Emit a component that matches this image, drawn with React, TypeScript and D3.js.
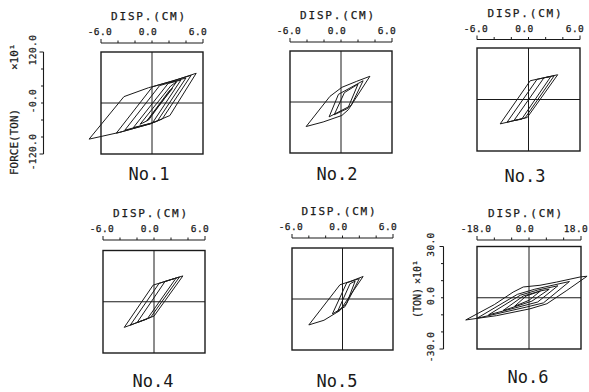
import React from "react";
import * as d3 from "d3";

type Pt = [number, number];

// ---------- DATA ----------
const specimenNames = ["No.1", "No.2", "No.3", "No.4", "No.5", "No.6"];
const xAxisTitle = "DISP.(CM)";
const yAxisTitle = "FORCE(TON)";
const yAxisTitleShort = "(TON)";
const yAxisMultiplier = "×10¹";

const dispTicksSmall = [-6, -4, -2, 0, 2, 4, 6];
const dispTickLabelsSmall = ["-6.0", "0.0", "6.0"];
const dispLabelValuesSmall = [-6, 0, 6];
const dispTicksLarge = [-18, -12, -6, 0, 6, 12, 18];
const dispTickLabelsLarge = ["-18.0", "0.0", "18.0"];
const dispLabelValuesLarge = [-18, 0, 18];

const forceTicksNo1 = [-120, -80, -40, 0, 40, 80, 120];
const forceLabelsNo1 = ["-120.0", "-0.0", "120.0"];
const forceLabelValuesNo1 = [-120, 0, 120];
const forceTicksNo6 = [-30, -20, -10, 0, 10, 20, 30];
const forceLabelsNo6 = ["-30.0", "0.0", "30.0"];
const forceLabelValuesNo6 = [-30, 0, 30];

const loopsNo1: Pt[][] = [
  [[-7.4, -85], [-3.3, 15], [-0.4, 36], [2.5, 52], [5.2, 70], [2.1, -29.5], [-0.2, -49], [-3.8, -69], [-7.4, -85]],
  [[-4.2, -71], [0.05, 38], [4.6, 65], [1.2, -37.8], [-0.2, -49], [-3.8, -69], [-4.2, -71]],
  [[-3.2, -64], [0.9, 41], [4.0, 59], [0.64, -42.3], [-0.2, -48], [-3.2, -64]],
  [[-2.2, -58], [1.9, 46], [3.4, 54], [0.05, -47], [-2.2, -58]],
  [[-1.4, -50], [2.2, 40], [2.9, 50], [-0.4, -40], [-1.4, -50]],
  [[-0.6, -42], [2.0, 28], [2.4, 34], [-0.2, -32], [-0.6, -42]],
];

const loopsNo2: Pt[][] = [
  [[-4.1, -57.7], [-1.3, 13.3], [0.1, 34.5], [1.85, 48.7], [3.4, 60.5], [0.86, -18.2], [0.1, -31.7], [-2.1, -47], [-4.1, -57.7]],
  [[-1.4, -35], [-0.3, 18], [2.6, 50], [1.2, -8], [-1.4, -35]],
  [[-0.8, -30], [0.4, 22], [2.0, 42], [0.8, -15], [-0.8, -30]],
];

const loopsNo3: Pt[][] = [
  [[-3.3, -56.8], [0.2, 43.7], [3.4, 57.7], [-0.15, -42], [-3.3, -56.8]],
  [[-2.5, -53], [1.0, 47], [3.0, 55.5], [-0.4, -43], [-2.5, -53]],
  [[-1.7, -49], [1.8, 50.5], [2.6, 53.5], [-0.8, -46], [-1.7, -49]],
];

const loopsNo4: Pt[][] = [
  [[-3.5, -60], [-0.1, 39], [3.4, 60.5], [0, -33.6], [-3.5, -60]],
  [[-2.8, -55], [0.6, 43], [3.0, 58], [-0.4, -36.6], [-2.8, -55]],
  [[-2.0, -49], [1.3, 47.5], [2.6, 55.5], [-0.8, -40.3], [-2.0, -49]],
];

const loopsNo5: Pt[][] = [
  [[-4.0, -61], [-0.3, 33.5], [1.0, 42], [2.45, 53], [-0.3, -27], [-2.2, -50], [-4.0, -61]],
  [[-1.2, -35], [0.5, 38], [2.0, 48], [0.3, -18], [-1.2, -35]],
  [[-0.6, -30], [0.9, 36], [1.5, 42], [0.5, -10], [-0.6, -30]],
];

const loopsNo6: Pt[][] = [
  [[-21.9, -13], [-12, -4], [-5.5, 3.3], [-2, 6.3], [3.8, 7.3], [9.6, 9.2], [17.8, 12.2], [20.1, 12.6], [13.1, 4.3], [6.2, -3.5], [0.3, -6.5], [-11.3, -10.5], [-21.9, -13]],
  [[-18, -12], [-4, 2], [2, 5], [14, 9.5], [5, -3], [-1, -5.5], [-18, -12]],
  [[-14, -10], [-3, 1.5], [3, 4.5], [10, 7], [3, -2.5], [-14, -10]],
  [[-9, -7.5], [-2, 1], [4, 4], [7, 5], [1, -2], [-9, -7.5]],
  [[-5, -5], [-1, 1], [4, 4], [0, -1.5], [-5, -5]],
];

// ---------- LAYOUT ----------
const INK = "#1a1a1a";
const MONO = "'DejaVu Sans Mono', 'Liberation Mono', monospace";

type Panel = {
  name: string;
  loops: Pt[][];
  x0: number; x1: number; y0: number; y1: number;
  axisY: number;
  labelX: number; labelY: number;
  xDomain: [number, number];
  yDomain: [number, number];
  xTicks: number[];
  xLabelValues: number[];
  xLabels: string[];
  yAxis?: { x: number; ticks: number[]; labelValues: number[]; labels: string[]; labelX: number; titleX: number; title: string; titleSize: number; titleStartY: number; multStartY: number };
};

const panels: Panel[] = [
  {
    name: specimenNames[0], loops: loopsNo1, x0: 101, x1: 203, y0: 52, y1: 154, axisY: 43, labelX: 149, labelY: 180,
    xDomain: [-6, 6], yDomain: [-120, 120], xTicks: dispTicksSmall, xLabelValues: dispLabelValuesSmall, xLabels: dispTickLabelsSmall,
    yAxis: { x: 43.5, ticks: forceTicksNo1, labelValues: forceLabelValuesNo1, labels: forceLabelsNo1, labelX: 35.5, titleX: 18, title: yAxisTitle, titleSize: 11, titleStartY: 175, multStartY: 70 },
  },
  {
    name: specimenNames[1], loops: loopsNo2, x0: 290, x1: 392, y0: 51, y1: 153, axisY: 42, labelX: 337, labelY: 180,
    xDomain: [-6, 6], yDomain: [-120, 120], xTicks: dispTicksSmall, xLabelValues: dispLabelValuesSmall, xLabels: dispTickLabelsSmall,
  },
  {
    name: specimenNames[2], loops: loopsNo3, x0: 477, x1: 580, y0: 48, y1: 151, axisY: 39.5, labelX: 525, labelY: 182,
    xDomain: [-6, 6], yDomain: [-120, 120], xTicks: dispTicksSmall, xLabelValues: dispLabelValuesSmall, xLabels: dispTickLabelsSmall,
  },
  {
    name: specimenNames[3], loops: loopsNo4, x0: 103, x1: 205, y0: 250.5, y1: 353, axisY: 240, labelX: 153, labelY: 387,
    xDomain: [-6, 6], yDomain: [-120, 120], xTicks: dispTicksSmall, xLabelValues: dispLabelValuesSmall, xLabels: dispTickLabelsSmall,
  },
  {
    name: specimenNames[4], loops: loopsNo5, x0: 292, x1: 393, y0: 248, y1: 350, axisY: 238, labelX: 337, labelY: 387,
    xDomain: [-6, 6], yDomain: [-120, 120], xTicks: dispTicksSmall, xLabelValues: dispLabelValuesSmall, xLabels: dispTickLabelsSmall,
  },
  {
    name: specimenNames[5], loops: loopsNo6, x0: 477, x1: 581, y0: 246.5, y1: 349, axisY: 240, labelX: 528, labelY: 383,
    xDomain: [-18, 18], yDomain: [-30, 30], xTicks: dispTicksLarge, xLabelValues: dispLabelValuesLarge, xLabels: dispTickLabelsLarge,
    yAxis: { x: 443.5, ticks: forceTicksNo6, labelValues: forceLabelValuesNo6, labels: forceLabelsNo6, labelX: 433.5, titleX: 421, title: yAxisTitleShort, titleSize: 10, titleStartY: 318, multStartY: 284 },
  },
];

const textInk = { fill: INK, stroke: INK, strokeWidth: 0.25 };

function PanelView({ p }: { p: Panel }) {
  const x = d3.scaleLinear().domain(p.xDomain).range([p.x0, p.x1]);
  const y = d3.scaleLinear().domain(p.yDomain).range([p.y1, p.y0]);
  const line = d3.line<Pt>().x((d) => x(d[0])).y((d) => y(d[1]));
  const [xmin, xmax] = p.xDomain;
  const [ymin, ymax] = p.yDomain;
  const labelOffsets = [-1, -4, -5];
  return (
    <g>
      <rect x={x(xmin)} y={y(ymax)} width={x(xmax) - x(xmin)} height={y(ymin) - y(ymax)} fill="none" stroke={INK} strokeWidth={1.4} />
      <line x1={x(0)} x2={x(0)} y1={y(ymax)} y2={y(ymin)} stroke={INK} strokeWidth={1} />
      <line x1={x(xmin)} x2={x(xmax)} y1={y(0)} y2={y(0)} stroke={INK} strokeWidth={1} />
      {p.loops.map((l, i) => (
        <path key={i} d={line(l) || ""} fill="none" stroke={INK} strokeWidth={1} strokeLinejoin="round" />
      ))}
      <line x1={x(xmin)} x2={x(xmax)} y1={p.axisY} y2={p.axisY} stroke={INK} strokeWidth={1.1} />
      {p.xTicks.map((t, i) => {
        const end = i === 0 || i === p.xTicks.length - 1;
        return <line key={i} x1={x(t)} x2={x(t)} y1={p.axisY} y2={p.axisY - (end ? 4 : 2.5)} stroke={INK} strokeWidth={1} />;
      })}
      {p.xLabelValues.map((v, i) => (
        <text key={i} x={x(v) + labelOffsets[i]} y={p.axisY - 8} textAnchor="middle" fontFamily={MONO} fontSize={9.5} letterSpacing={0.4} {...textInk}>
          {p.xLabels[i]}
        </text>
      ))}
      <text x={x(0) - 3} y={p.axisY - 23} textAnchor="middle" fontFamily={MONO} fontSize={11} letterSpacing={1.8} {...textInk}>
        {xAxisTitle}
      </text>
      {p.yAxis && (
        <g>
          <line x1={p.yAxis.x} x2={p.yAxis.x} y1={y(ymax)} y2={y(ymin)} stroke={INK} strokeWidth={1.1} />
          {p.yAxis.ticks.map((t, i) => {
            const end = i === 0 || i === p.yAxis!.ticks.length - 1;
            return <line key={i} x1={p.yAxis!.x} x2={p.yAxis!.x - (end ? 4 : 2.5)} y1={y(t)} y2={y(t)} stroke={INK} strokeWidth={1} />;
          })}
          {p.yAxis.labelValues.map((v, i) => (
            <text key={i} transform={`translate(${p.yAxis!.labelX},${y(v) - 2}) rotate(-90)`} textAnchor="middle" fontFamily={MONO} fontSize={9.5} letterSpacing={0.4} {...textInk}>
              {p.yAxis!.labels[i]}
            </text>
          ))}
          <text transform={`translate(${p.yAxis.titleX},${p.yAxis.titleStartY}) rotate(-90)`} textAnchor="start" fontFamily={MONO} fontSize={p.yAxis.titleSize} {...textInk}>
            {p.yAxis.title}
          </text>
          <text transform={`translate(${p.yAxis.titleX},${p.yAxis.multStartY}) rotate(-90)`} textAnchor="start" fontFamily={MONO} fontSize={p.yAxis.titleSize} {...textInk}>
            {yAxisMultiplier}
          </text>
        </g>
      )}
      <text x={p.labelX} y={p.labelY} textAnchor="middle" fontFamily={MONO} fontSize={17} fill={INK}>
        {p.name}
      </text>
    </g>
  );
}

export default function App() {
  return (
    <svg width={589} height={392} style={{ position: "absolute", left: 0, top: 0, background: "#fff" }}>
      <rect x={0} y={0} width={589} height={392} fill="#fff" />
      {panels.map((p, i) => (
        <PanelView key={i} p={p} />
      ))}
    </svg>
  );
}
